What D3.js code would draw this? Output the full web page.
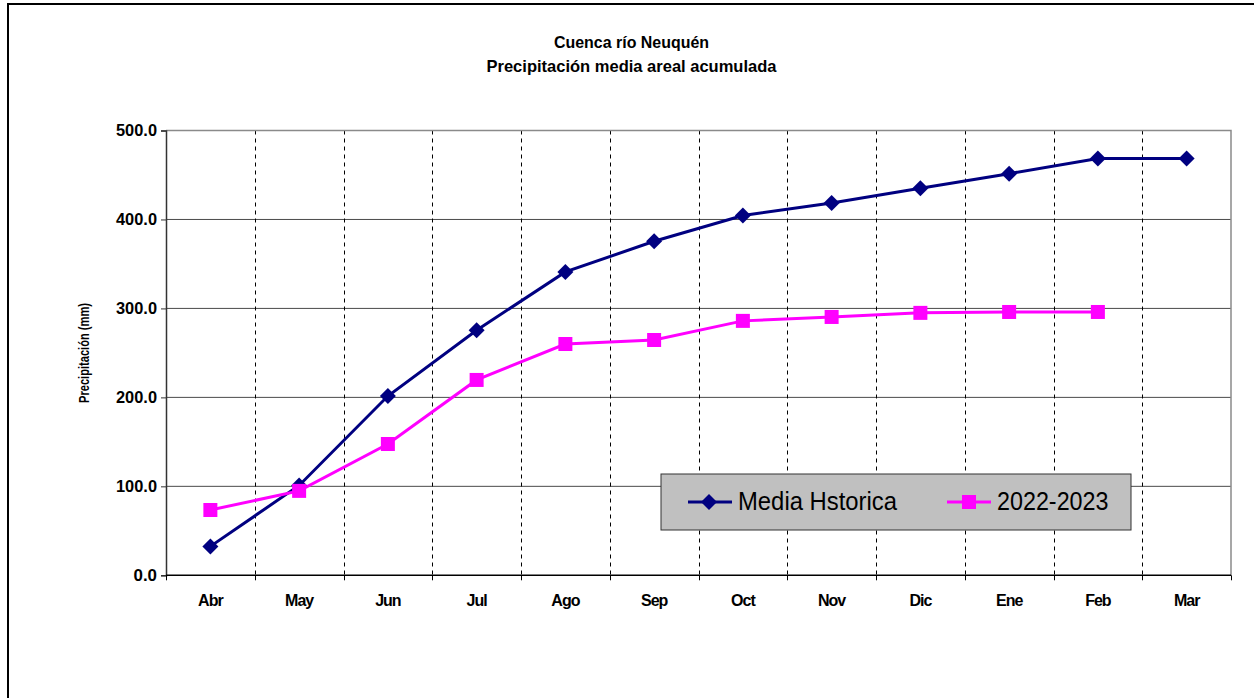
<!DOCTYPE html>
<html>
<head>
<meta charset="utf-8">
<script src="https://cdn.jsdelivr.net/npm/d3@7"></script>
<style>
  html, body { margin: 0; padding: 0; background: #fff; }
  svg { display: block; font-family: "Liberation Sans", Arial, sans-serif; }
</style>
</head>
<body>
<svg id="chart" width="1254" height="698"></svg>
<script>
// Monthly categories of the hydrological year (April to March)
const months = ["Abr", "May", "Jun", "Jul", "Ago", "Sep", "Oct", "Nov", "Dic", "Ene", "Feb", "Mar"];
// Accumulated areal precipitation (mm)
const mediaHistorica = [32.5, 101, 201.5, 275.5, 341, 375.5, 404.5, 418.5, 435, 451.5, 468.5, 468.5];
const temporada = [73.4, 94.9, 147.6, 219.6, 260, 264.5, 286, 290.4, 295, 296, 296, null];
const yTicks = [0, 100, 200, 300, 400, 500];
const seriesNames = ["Media Hstorica", "2022-2023"];
const titleLines = ["Cuenca río Neuquén", "Precipitación media areal acumulada"];
const yTitle = "Precipitación (mm)";

const svg = d3.select("#chart");

// outer frame
svg.append("rect")
  .attr("x", 8).attr("y", 4).attr("width", 1260).attr("height", 720)
  .attr("fill", "none").attr("stroke", "#000").attr("stroke-width", 2);

const plot = { left: 166, right: 1231, top: 130.5, bottom: 575.3 };

const x = d3.scaleBand().domain(months).range([plot.left, plot.right]).padding(0);
const y = d3.scaleLinear().domain([0, 500]).range([plot.bottom, plot.top]);
const cx = m => x(m) + x.bandwidth() / 2;

// horizontal gridlines
svg.append("g").selectAll("line")
  .data(yTicks.filter(t => t > 0 && t < 500))
  .join("line")
  .attr("x1", plot.left).attr("x2", plot.right)
  .attr("y1", d => y(d)).attr("y2", d => y(d))
  .attr("stroke", "#4a4a4a").attr("stroke-width", 1);

// vertical dashed category separators
svg.append("g").selectAll("line")
  .data(months.slice(1))
  .join("line")
  .attr("x1", d => Math.round(x(d)) + 0.5).attr("x2", d => Math.round(x(d)) + 0.5)
  .attr("y1", plot.top).attr("y2", plot.bottom)
  .attr("stroke", "#000").attr("stroke-width", 1)
  .attr("stroke-dasharray", "4,4");

// plot area top and right border
svg.append("path")
  .attr("d", `M${plot.left},${y(500)}H${plot.right}V${plot.bottom}`)
  .attr("fill", "none").attr("stroke", "#8a8a8a").attr("stroke-width", 1.5);

// y axis
const yAxis = svg.append("g")
  .attr("transform", `translate(${plot.left},0)`)
  .call(d3.axisLeft(y).tickValues(yTicks).tickFormat(d3.format(".1f")).tickSize(5).tickPadding(4));
yAxis.select(".domain").attr("stroke", "#333").attr("stroke-width", 1.5);
yAxis.selectAll(".tick line").attr("stroke", "#333");
yAxis.selectAll(".tick text")
  .attr("font-size", 17).attr("font-weight", "bold").attr("fill", "#000")
  .attr("textLength", d => d >= 100 ? 41 : 23.5).attr("lengthAdjust", "spacingAndGlyphs")
  .attr("font-family", "'Liberation Sans', Arial, sans-serif");

// x axis
const xAxis = svg.append("g")
  .attr("transform", `translate(0,${plot.bottom})`)
  .call(d3.axisBottom(x).tickSize(0).tickPadding(0));
xAxis.select(".domain").remove();
svg.append("line")
  .attr("x1", plot.left).attr("x2", plot.right)
  .attr("y1", plot.bottom).attr("y2", plot.bottom)
  .attr("stroke", "#000").attr("stroke-width", 1.5);
xAxis.selectAll(".tick text")
  .attr("y", 31).attr("dy", 0)
  .attr("font-size", 16).attr("font-weight", "bold").attr("fill", "#000")
  .attr("letter-spacing", -1)
  .attr("font-family", "'Liberation Sans', Arial, sans-serif");
// tick marks at category boundaries
svg.append("g").selectAll("line")
  .data(months.map(m => x(m)).concat([plot.right]))
  .join("line")
  .attr("x1", d => Math.round(d) + 0.5).attr("x2", d => Math.round(d) + 0.5)
  .attr("y1", plot.bottom).attr("y2", plot.bottom + 5)
  .attr("stroke", "#000");

// titles
svg.append("g").selectAll("text")
  .data(titleLines)
  .join("text")
  .attr("x", 631.5)
  .attr("y", (d, i) => 48 + i * 23.7)
  .attr("text-anchor", "middle")
  .attr("font-size", 16.5).attr("font-weight", "bold")
  .attr("textLength", (d, i) => i === 0 ? 155 : 290)
  .attr("lengthAdjust", "spacingAndGlyphs")
  .text(d => d);

// y axis title
svg.append("text")
  .attr("transform", "translate(89,353) rotate(-90)")
  .attr("text-anchor", "middle")
  .attr("font-size", 15).attr("font-weight", "bold")
  .attr("textLength", 100).attr("lengthAdjust", "spacingAndGlyphs")
  .text(yTitle);

// series
const line = d3.line()
  .defined(d => d.v !== null)
  .x(d => cx(d.m)).y(d => y(d.v));

const histData = months.map((m, i) => ({ m, v: mediaHistorica[i] }));
const seasonData = months.map((m, i) => ({ m, v: temporada[i] }));

const navy = "#000080", pink = "#ff00ff";

svg.append("path").datum(histData)
  .attr("d", line).attr("fill", "none")
  .attr("stroke", navy).attr("stroke-width", 3);

const diamond = s => `M0,${-s}L${s},0L0,${s}L${-s},0Z`;

svg.append("g").selectAll("path")
  .data(histData.filter(d => d.v !== null))
  .join("path")
  .attr("transform", d => `translate(${cx(d.m)},${y(d.v)})`)
  .attr("d", diamond(8))
  .attr("fill", navy);

svg.append("path").datum(seasonData)
  .attr("d", line).attr("fill", "none")
  .attr("stroke", pink).attr("stroke-width", 3);

svg.append("g").selectAll("rect")
  .data(seasonData.filter(d => d.v !== null))
  .join("rect")
  .attr("x", d => cx(d.m) - 7).attr("y", d => y(d.v) - 7)
  .attr("width", 14).attr("height", 14)
  .attr("fill", pink);

// legend
const legend = svg.append("g");
legend.append("rect")
  .attr("x", 661).attr("y", 474).attr("width", 470).attr("height", 56)
  .attr("fill", "#c0c0c0").attr("stroke", "#333").attr("stroke-width", 1);

const legendItems = [
  { name: seriesNames[0], color: navy, shape: "diamond", x0: 688, tx: 738, tw: 159 },
  { name: seriesNames[1], color: pink, shape: "square", x0: 947, tx: 997, tw: 111.5 }
];
legendItems.forEach(it => {
  const ly = 502;
  legend.append("line")
    .attr("x1", it.x0).attr("x2", it.x0 + 44)
    .attr("y1", ly).attr("y2", ly)
    .attr("stroke", it.color).attr("stroke-width", 3);
  if (it.shape === "diamond") {
    legend.append("path")
      .attr("transform", `translate(${it.x0 + 21},${ly})`)
      .attr("d", diamond(8)).attr("fill", it.color);
  } else {
    legend.append("rect")
      .attr("x", it.x0 + 15).attr("y", ly - 7)
      .attr("width", 14).attr("height", 14).attr("fill", it.color);
  }
  legend.append("text")
    .attr("x", it.tx).attr("y", 510)
    .attr("font-size", 25)
    .attr("textLength", it.tw).attr("lengthAdjust", "spacingAndGlyphs")
    .text(it.name);
});
</script>
</body>
</html>
